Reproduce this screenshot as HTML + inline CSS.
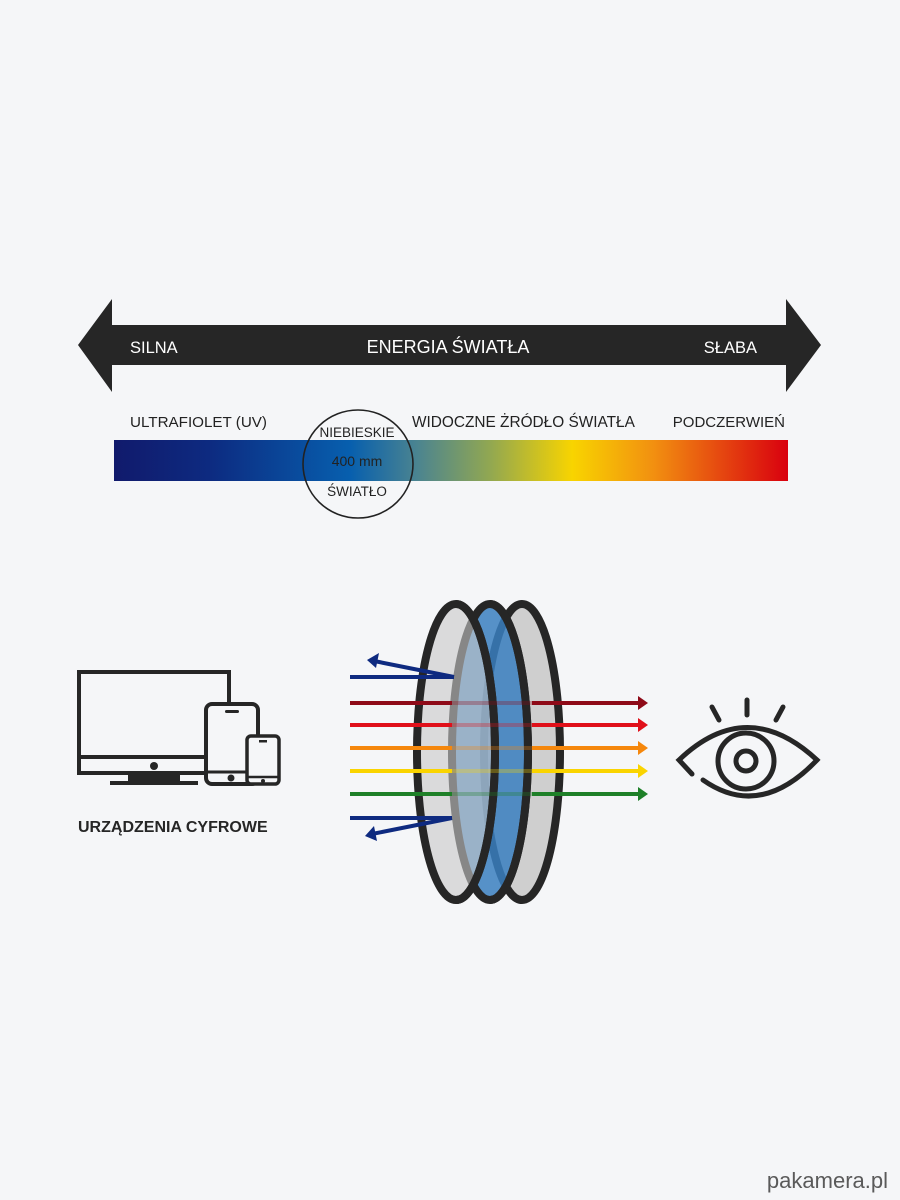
<!DOCTYPE html>
<html><head><meta charset="utf-8"><style>
html,body{margin:0;padding:0;background:#f5f6f8;}
svg{display:block;font-family:"Liberation Sans",sans-serif;}
</style></head><body>
<svg width="900" height="1200" viewBox="0 0 900 1200" xmlns="http://www.w3.org/2000/svg">
<defs>
<linearGradient id="spec" x1="114" y1="0" x2="788" y2="0" gradientUnits="userSpaceOnUse">
<stop offset="0" stop-color="#111a6c"/>
<stop offset="0.14" stop-color="#0d2a80"/>
<stop offset="0.35" stop-color="#075fae"/>
<stop offset="0.45" stop-color="#4b8490"/>
<stop offset="0.56" stop-color="#93a850"/>
<stop offset="0.68" stop-color="#f8d400"/>
<stop offset="0.80" stop-color="#f29010"/>
<stop offset="1" stop-color="#d9000f"/>
</linearGradient>
</defs>

<polygon points="78,345 112,299 112,325 786,325 786,299 821,345 786,392 786,365 112,365 112,392" fill="#262626"/>
<text x="130" y="353" font-size="16.5" fill="#fff">SILNA</text>
<text x="448" y="353" font-size="18" fill="#fff" text-anchor="middle">ENERGIA ŚWIATŁA</text>
<text x="757" y="353" font-size="16.5" fill="#fff" text-anchor="end">SŁABA</text>

<text x="130" y="427" font-size="15.2" fill="#222">ULTRAFIOLET (UV)</text>
<text x="412" y="427" font-size="15.4" fill="#222">WIDOCZNE ŻRÓDŁO ŚWIATŁA</text>
<text x="785" y="427" font-size="15" fill="#222" text-anchor="end">PODCZERWIEŃ</text>
<rect x="114" y="440" width="674" height="41" fill="url(#spec)"/>
<ellipse cx="358" cy="464" rx="55" ry="54" fill="none" stroke="#222" stroke-width="1.6"/>
<text x="357" y="437" font-size="13.5" fill="#222" text-anchor="middle">NIEBIESKIE</text>
<text x="357" y="466" font-size="14" fill="#222" text-anchor="middle">400 mm</text>
<text x="357" y="496" font-size="13.5" fill="#222" text-anchor="middle">ŚWIATŁO</text>

<g fill="none" stroke="#262626" stroke-width="4">
<rect x="79" y="672" width="150" height="101"/>
<line x1="79" y1="757" x2="229" y2="757"/>
</g>
<circle cx="154" cy="766" r="4" fill="#262626"/>
<polygon points="128,773 180,773 180,782 128,782" fill="#262626"/>
<rect x="110" y="781" width="88" height="4" fill="#262626"/>
<rect x="206" y="704" width="52" height="80" rx="6" fill="#f5f6f8" stroke="#262626" stroke-width="4"/>
<line x1="206" y1="772" x2="258" y2="772" stroke="#262626" stroke-width="3"/>
<rect x="225" y="710" width="14" height="3" rx="1.5" fill="#262626"/>
<circle cx="231" cy="778" r="3.5" fill="#262626"/>
<rect x="247" y="736" width="32" height="48" rx="4" fill="#f5f6f8" stroke="#262626" stroke-width="3.5"/>
<line x1="247" y1="777" x2="279" y2="777" stroke="#262626" stroke-width="2.5"/>
<rect x="259" y="740" width="8" height="2.5" fill="#262626"/>
<circle cx="263" cy="781" r="2" fill="#262626"/>
<text x="78" y="832" font-size="16" font-weight="bold" fill="#262626">URZĄDZENIA CYFROWE</text>

<!-- lenses -->
<ellipse cx="522" cy="752" rx="38" ry="148" fill="#cfcfcf" stroke="#262626" stroke-width="8"/>
<ellipse cx="490" cy="752" rx="38" ry="148" fill="#3a7fc0" fill-opacity="0.85" stroke="#262626" stroke-width="8"/>
<ellipse cx="456" cy="752" rx="39" ry="148" fill="#c8c8c8" fill-opacity="0.6" stroke="#262626" stroke-width="8"/>
<path d="M456,604 A39,148 0 0 1 456,900" fill="none" stroke="#262626" stroke-width="8"/>
<path d="M490,604 A38,148 0 0 1 490,900" fill="none" stroke="#262626" stroke-width="8"/>

<g stroke-width="4">
<g stroke="#8e0a18"><line x1="350" y1="703" x2="452" y2="703"/><line x1="452" y1="703" x2="532" y2="703" opacity="0.3"/><line x1="532" y1="703" x2="640" y2="703"/></g>
<g stroke="#e0101a"><line x1="350" y1="725" x2="452" y2="725"/><line x1="452" y1="725" x2="532" y2="725" opacity="0.3"/><line x1="532" y1="725" x2="640" y2="725"/></g>
<g stroke="#f5870c"><line x1="350" y1="748" x2="452" y2="748"/><line x1="452" y1="748" x2="532" y2="748" opacity="0.3"/><line x1="532" y1="748" x2="640" y2="748"/></g>
<g stroke="#fad400"><line x1="350" y1="771" x2="452" y2="771"/><line x1="452" y1="771" x2="532" y2="771" opacity="0.3"/><line x1="532" y1="771" x2="640" y2="771"/></g>
<g stroke="#1e8028"><line x1="350" y1="794" x2="452" y2="794"/><line x1="452" y1="794" x2="532" y2="794" opacity="0.3"/><line x1="532" y1="794" x2="640" y2="794"/></g>
</g>
<polygon points="638,696 648,703 638,710" fill="#8e0a18"/>
<polygon points="638,718 648,725 638,732" fill="#e0101a"/>
<polygon points="638,741 648,748 638,755" fill="#f5870c"/>
<polygon points="638,764 648,771 638,778" fill="#fad400"/>
<polygon points="638,787 648,794 638,801" fill="#1e8028"/>
<g stroke="#0e2a80" stroke-width="4" fill="none">
<line x1="350" y1="677" x2="454" y2="677"/>
<line x1="454" y1="677" x2="374" y2="661"/>
<line x1="350" y1="818" x2="452" y2="818"/>
<line x1="452" y1="818" x2="372" y2="834"/>
</g>
<polygon points="367,660 379,653 376,668" fill="#0e2a80"/>
<polygon points="365,836 374,826 377,841" fill="#0e2a80"/>

<g fill="none" stroke="#262626" stroke-width="5" stroke-linecap="round">
<path d="M692,774 L679,760 Q747,695 817,760 Q760,820 703,780"/>
<circle cx="746" cy="761" r="28"/>
<circle cx="746" cy="761" r="10"/>
<line x1="747" y1="700" x2="747" y2="715"/>
<line x1="712" y1="707" x2="719" y2="720"/>
<line x1="783" y1="707" x2="776" y2="720"/>
</g>

<text x="888" y="1188" font-size="22" fill="#5a5a5a" text-anchor="end">pakamera.pl</text>
</svg>
</body></html>
